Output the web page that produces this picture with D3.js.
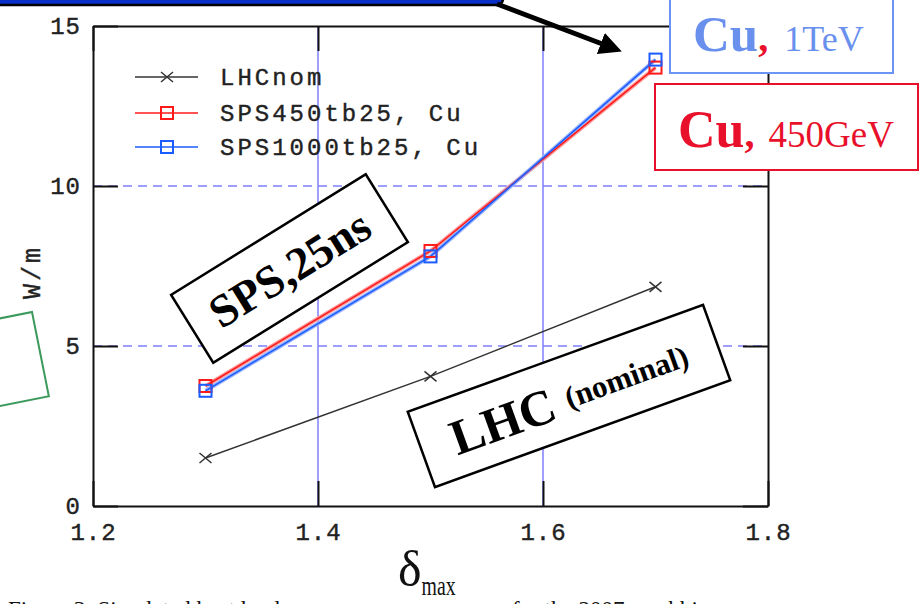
<!DOCTYPE html>
<html>
<head>
<meta charset="utf-8">
<script src="https://cdn.jsdelivr.net/npm/d3@7"></script>
<style>
  body { margin: 0; background: #fff; }
  svg { display: block; }
  .tick text { font-family: "Liberation Mono", monospace; font-size: 24px; fill: #222; stroke: #222; stroke-width: 0.4px; letter-spacing: 1px; }
  .legend text { font-family: "Liberation Mono", monospace; font-size: 24px; fill: #222; stroke: #222; stroke-width: 0.4px; letter-spacing: 3px; }
</style>
</head>
<body>
<div id="chart"></div>
<script>
// data
var deltaMax = [1.3, 1.5, 1.7];
var lhcNom   = [1.5, 4.05, 6.85];
var sps450   = [3.75, 7.97, 13.7];
var sps1000  = [3.6, 7.8, 13.95];
var xTicks = [1.2, 1.4, 1.6, 1.8];
var yTicks = [0, 5, 10, 15];
var seriesNames = ["LHCnom", "SPS450tb25, Cu", "SPS1000tb25, Cu"];

var width = 922, height = 604;
var frame = {left: 93, right: 768, top: 26, bottom: 506};

var x = d3.scaleLinear().domain([1.2, 1.8]).range([frame.left, frame.right]);
var y = d3.scaleLinear().domain([0, 15]).range([frame.bottom, frame.top]);

var svg = d3.select("#chart").append("svg")
    .attr("width", width)
    .attr("height", height);

// grid
svg.selectAll(".hgrid")
    .data([5, 10])
  .enter().append("line")
    .attr("x1", frame.left).attr("x2", frame.right)
    .attr("y1", function(d) { return y(d); })
    .attr("y2", function(d) { return y(d); })
    .attr("stroke", "#7f7fff").attr("stroke-width", 1.5)
    .attr("stroke-dasharray", "9,6");

svg.selectAll(".vgrid")
    .data([1.4, 1.6])
  .enter().append("line")
    .attr("y1", frame.top).attr("y2", frame.bottom)
    .attr("x1", function(d) { return x(d); })
    .attr("x2", function(d) { return x(d); })
    .attr("stroke", "#7f7fff").attr("stroke-width", 1.5);

// axes, ticks pointing inwards
function darken(g) {
  g.selectAll("line, path").attr("stroke", "#111").attr("stroke-width", 2);
}

svg.append("g")
    .attr("transform", "translate(" + frame.left + ",0)")
    .call(d3.axisLeft(y).tickValues(yTicks).tickSize(-25).tickSizeOuter(0).tickPadding(12))
    .call(darken);

svg.append("g")
    .attr("transform", "translate(0," + frame.bottom + ")")
    .call(d3.axisBottom(x).tickValues(xTicks).tickFormat(d3.format(".1f")).tickSize(-25).tickSizeOuter(0).tickPadding(17))
    .call(darken);

svg.append("g")
    .attr("transform", "translate(" + frame.right + ",0)")
    .call(d3.axisRight(y).tickValues(yTicks).tickSize(-25).tickSizeOuter(0).tickFormat(""))
    .call(darken);

svg.append("g")
    .attr("transform", "translate(0," + frame.top + ")")
    .call(d3.axisTop(x).tickValues(xTicks).tickSize(-25).tickSizeOuter(0).tickFormat(""))
    .call(darken);

// y label
svg.append("text")
    .attr("transform", "translate(40,272) rotate(-90)")
    .attr("text-anchor", "middle")
    .style("font-family", "Liberation Mono, monospace")
    .style("font-size", "25px")
    .style("letter-spacing", "3px")
    .attr("fill", "#222").attr("stroke", "#222").attr("stroke-width", 0.4)
    .text("W/m");

// caption, cut off at the bottom edge
svg.append("text")
    .attr("x", 8).attr("y", 617)
    .style("font-family", "Liberation Serif, serif").style("font-size", "23px")
    .attr("fill", "#111")
    .text("Figure 3: Simulated heat load");
svg.append("text")
    .attr("x", 512).attr("y", 617)
    .style("font-family", "Liberation Serif, serif").style("font-size", "23px")
    .attr("fill", "#111")
    .text("for the 2007 scrubbing run");

// x label
var xl = svg.append("text")
    .attr("x", 398).attr("y", 586)
    .style("font-family", "Liberation Serif, serif")
    .attr("fill", "#111");
xl.append("tspan").style("font-size", "50px").text("δ");
xl.append("tspan").attr("dy", 9).style("font-size", "27px")
    .attr("textLength", 34).attr("lengthAdjust", "spacingAndGlyphs").text("max");

// series
var line = d3.line()
    .x(function(d, i) { return x(deltaMax[i]); })
    .y(function(d) { return y(d); });

svg.append("path").datum(lhcNom)
    .attr("d", line).attr("fill", "none")
    .attr("stroke", "#333").attr("stroke-width", 1.5);
svg.append("path").datum(sps450)
    .attr("d", line).attr("fill", "none")
    .attr("stroke", "#ff9a9a").attr("stroke-width", 4);
svg.append("path").datum(sps1000)
    .attr("d", line).attr("fill", "none")
    .attr("stroke", "#9ab4ff").attr("stroke-width", 4);
svg.append("path").datum(sps450)
    .attr("d", line).attr("fill", "none")
    .attr("stroke", "#ff1a1a").attr("stroke-width", 1.5);
svg.append("path").datum(sps1000)
    .attr("d", line).attr("fill", "none")
    .attr("stroke", "#1a5cff").attr("stroke-width", 1.5);

function cross(g, cx, cy) {
  g.append("path")
      .attr("d", "M" + (cx - 6) + "," + (cy - 5) + "L" + (cx + 6) + "," + (cy + 5) +
                 "M" + (cx - 6) + "," + (cy + 5) + "L" + (cx + 6) + "," + (cy - 5))
      .attr("stroke", "#333").attr("stroke-width", 1.5);
}
function square(g, cx, cy, color) {
  g.append("rect")
      .attr("x", cx - 6).attr("y", cy - 6)
      .attr("width", 12).attr("height", 12)
      .attr("fill", "none").attr("stroke", color).attr("stroke-width", 2);
}

var marks = svg.append("g");
lhcNom.forEach(function(d, i) { cross(marks, x(deltaMax[i]), y(d)); });
sps450.forEach(function(d, i) { square(marks, x(deltaMax[i]), y(d), "#ff1a1a"); });
sps1000.forEach(function(d, i) { square(marks, x(deltaMax[i]), y(d), "#1a5cff"); });

// legend
var legend = svg.append("g").attr("class", "legend");
var legColors = ["#333", "#ff1a1a", "#1a5cff"];
var legY = [77, 113, 147];
seriesNames.forEach(function(name, i) {
  legend.append("line")
      .attr("x1", 135).attr("x2", 198)
      .attr("y1", legY[i]).attr("y2", legY[i])
      .attr("stroke", legColors[i]).attr("stroke-width", 1.5);
  if (i === 0) cross(legend, 167, legY[i]);
  else square(legend, 167, legY[i], legColors[i]);
  legend.append("text")
      .attr("x", 220).attr("y", legY[i] + 8)
      .text(name);
});

// annotations
svg.append("rect")
    .attr("x", -10).attr("y", -20)
    .attr("width", 513).attr("height", 25)
    .attr("rx", 6)
    .attr("fill", "#0a2fc8").attr("stroke", "#000").attr("stroke-width", 2.5);

svg.append("defs").append("marker")
    .attr("id", "head")
    .attr("viewBox", "0 0 10 10")
    .attr("refX", 2).attr("refY", 5)
    .attr("markerWidth", 4.5).attr("markerHeight", 4.5)
    .attr("orient", "auto")
  .append("path").attr("d", "M0,0L10,5L0,10z").attr("fill", "#000");

svg.append("line")
    .attr("x1", 497).attr("y1", 4)
    .attr("x2", 605).attr("y2", 45)
    .attr("stroke", "#000").attr("stroke-width", 5)
    .attr("marker-end", "url(#head)");

var g1 = svg.append("g").attr("transform", "translate(289.5,268.5) rotate(-31.8)");
g1.append("rect")
    .attr("x", -114.5).attr("y", -40).attr("width", 229).attr("height", 80)
    .attr("fill", "#fff").attr("stroke", "#000").attr("stroke-width", 2.5);
g1.append("text")
    .attr("text-anchor", "middle").attr("y", 16)
    .style("font-family", "Liberation Serif, serif").style("font-weight", "bold").style("font-size", "46px")
    .text("SPS,25ns");

var g2 = svg.append("g").attr("transform", "translate(569,396) rotate(-19.9)");
g2.append("rect")
    .attr("x", -157).attr("y", -40).attr("width", 314).attr("height", 80)
    .attr("fill", "#fff").attr("stroke", "#000").attr("stroke-width", 2.5);
var t2 = g2.append("text")
    .attr("text-anchor", "middle").attr("y", 18)
    .style("font-family", "Liberation Serif, serif").style("font-weight", "bold");
t2.append("tspan").style("font-size", "50px").text("LHC ");
t2.append("tspan").attr("dy", -6).style("font-size", "31px").text("(nominal)");

var g3 = svg.append("g");
g3.append("rect")
    .attr("x", 670).attr("y", -5).attr("width", 223).attr("height", 78)
    .attr("fill", "#fff").attr("stroke", "#6b95f5").attr("stroke-width", 2);
var t3 = g3.append("text")
    .attr("x", 693).attr("y", 51)
    .style("font-family", "Liberation Serif, serif");
t3.append("tspan").style("font-weight", "bold").style("font-size", "51px").attr("fill", "#6a90ee").text("Cu");
t3.append("tspan").style("font-weight", "bold").style("font-size", "40px").attr("fill", "#e8102a").text(",");
t3.append("tspan").attr("dx", 16).style("font-size", "36px").attr("fill", "#6a90ee").text("1TeV");

var g4 = svg.append("g");
g4.append("rect")
    .attr("x", 655).attr("y", 84).attr("width", 263).attr("height", 86)
    .attr("fill", "#fff").attr("stroke", "#e8102a").attr("stroke-width", 2);
var t4 = g4.append("text")
    .attr("x", 678).attr("y", 147)
    .style("font-family", "Liberation Serif, serif").attr("fill", "#e8102a");
t4.append("tspan").style("font-weight", "bold").style("font-size", "52px").text("Cu");
t4.append("tspan").style("font-weight", "bold").style("font-size", "40px").text(",");
t4.append("tspan").attr("dx", 14).style("font-size", "37px").text("450GeV");

svg.append("g").attr("transform", "translate(32,312) rotate(-11.3)")
  .append("rect")
    .attr("x", -110).attr("y", 0).attr("width", 110).attr("height", 86)
    .attr("fill", "#fff").attr("stroke", "#3c9a5c").attr("stroke-width", 2);
</script>
</body>
</html>
